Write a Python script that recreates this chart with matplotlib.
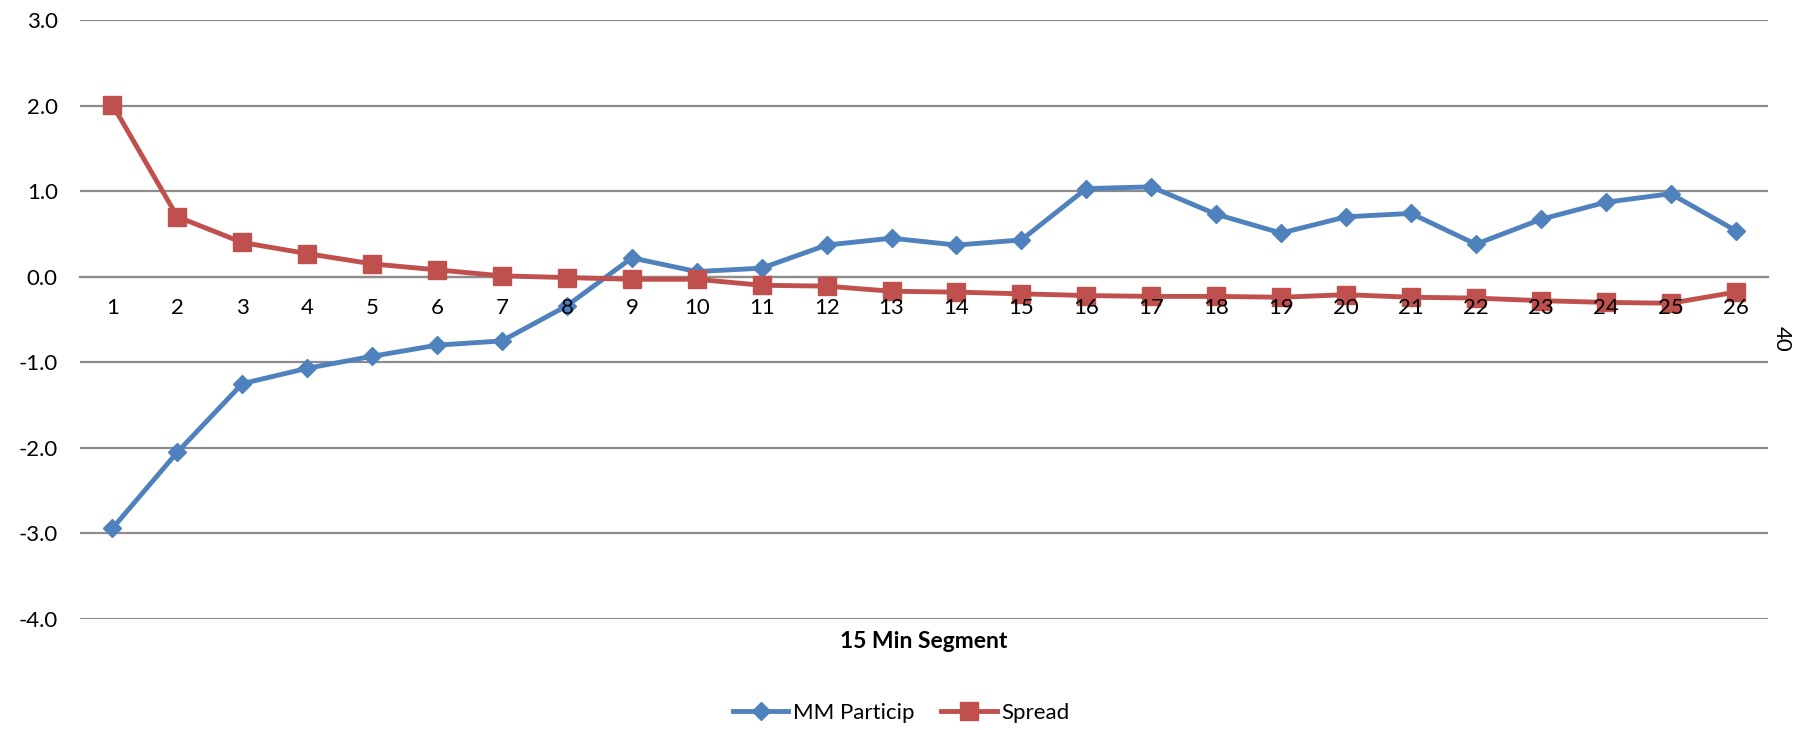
import matplotlib
matplotlib.use('Agg')
import matplotlib.pyplot as plt

plt.rcParams['font.family'] = ['Lato', 'DejaVu Sans']

segments = list(range(1, 27))
mm_particip = [-2.94, -2.05, -1.25, -1.07, -0.93, -0.80, -0.75, -0.34, 0.22, 0.06,
               0.10, 0.37, 0.45, 0.37, 0.43, 1.03, 1.05, 0.73, 0.51, 0.70,
               0.74, 0.38, 0.67, 0.87, 0.97, 0.54]
spread = [2.01, 0.70, 0.40, 0.27, 0.15, 0.08, 0.01, -0.01, -0.03, -0.03,
          -0.10, -0.11, -0.17, -0.18, -0.20, -0.22, -0.23, -0.23, -0.24, -0.21,
          -0.24, -0.25, -0.28, -0.30, -0.31, -0.18]
y_ticks = [3.0, 2.0, 1.0, 0.0, -1.0, -2.0, -3.0, -4.0]

blue = "#4F81BD"
red = "#C0504D"
grid_gray = "#8C8C8C"

fig = plt.figure(figsize=(18.11, 7.30), dpi=100)
ax = fig.add_axes([80 / 1811, 1 - 619 / 730, (1768 - 80) / 1811, (619 - 20) / 730])

ax.plot(segments, mm_particip, color=blue, lw=3.5, marker="D", ms=9,
        label="MM Particip", zorder=3)
ax.plot(segments, spread, color=red, lw=3.5, marker="s", ms=13,
        label="Spread", zorder=3)

ax.set_xlim(0.5, 26.5)
ax.set_ylim(-4.0, 3.0)
ax.set_yticks(y_ticks)
ax.set_yticklabels([f"{v:.1f}" for v in y_ticks])
ax.set_xticks(segments)
ax.set_xticklabels([str(s) for s in segments])

ax.grid(axis="y", color=grid_gray, lw=1.6)
ax.set_axisbelow(True)
# category numbers are printed on top of the markers
ax.xaxis.set_zorder(4)
for side in ["left", "right", "top"]:
    ax.spines[side].set_visible(False)
# category labels sit just under the zero line
ax.spines["bottom"].set_position(("data", 0))
ax.spines["bottom"].set_color(grid_gray)
ax.spines["bottom"].set_linewidth(1.6)
ax.spines["bottom"].set_zorder(1)
ax.tick_params(axis="x", length=0, pad=15, labelsize=16)
ax.tick_params(axis="y", length=0, pad=16, labelsize=16)

fig.text(924 / 1811, 1 - 641 / 730, "15 Min Segment", fontsize=16.5,
         fontweight="bold", ha="center", va="center")
fig.text(1782 / 1811, 1 - 339 / 730, "40", fontsize=16, rotation=-90,
         ha="center", va="center")

fig.legend(loc="center", bbox_to_anchor=(901 / 1811, 1 - 713 / 730), ncol=2,
           frameon=False, fontsize=16, handlelength=2.5, handletextpad=0.2,
           columnspacing=1.2)

plt.savefig("out.png", dpi=100)
